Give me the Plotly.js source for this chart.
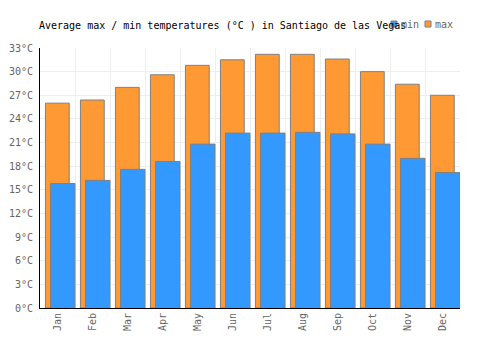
<!DOCTYPE html>
<html>
<head>
<meta charset="utf-8">
<script src="https://cdn.plot.ly/plotly-3.0.1.min.js"></script>
<style>html,body{margin:0;padding:0;background:#fff;}#chart{width:500px;height:350px;}</style>
</head>
<body>
<div id="chart"></div>
<script>
const months = ["Jan","Feb","Mar","Apr","May","Jun","Jul","Aug","Sep","Oct","Nov","Dec"];
const maxTemps = [26.0, 26.4, 28.0, 29.6, 30.8, 31.5, 32.2, 32.2, 31.6, 30.0, 28.4, 27.0];
const minTemps = [15.8, 16.2, 17.6, 18.6, 20.8, 22.2, 22.2, 22.3, 22.1, 20.8, 19.0, 17.2];
const yTicks = [0,3,6,9,12,15,18,21,24,27,30,33];

const FONT = "DejaVu Sans Mono, Liberation Mono, monospace";

const traces = [
  {
    type: "bar", name: "max", x: months, y: maxTemps,
    width: 0.68, offset: -0.345,
    marker: {color: "#ff9933", line: {color: "#808080", width: 1}},
    showlegend: false, hoverinfo: "skip"
  },
  {
    type: "bar", name: "min", x: months, y: minTemps,
    width: 0.70, offset: -0.20,
    marker: {color: "#3399ff", line: {color: "#808080", width: 1}},
    showlegend: false, hoverinfo: "skip"
  }
];

const layout = {
  width: 500, height: 350,
  margin: {l: 40, r: 40, t: 48, b: 42},
  paper_bgcolor: "#fff", plot_bgcolor: "#fff",
  barmode: "overlay",
  font: {family: FONT, size: 10, color: "#666"},
  title: {
    text: "Average max / min temperatures (°C ) in Santiago de las Vegas",
    font: {family: FONT, size: 10, color: "#000"},
    xref: "container", yref: "container",
    x: 39/500, xanchor: "left", y: 1 - 25/350, yanchor: "middle"
  },
  xaxis: {
    type: "category", range: [-0.5, 11.5],
    tickson: "boundaries", ticks: "", tickangle: -90,
    showgrid: true, gridcolor: "#eeeeee", gridwidth: 1,
    showline: true, linecolor: "#000", linewidth: 1,
    zeroline: false, tickfont: {family: FONT, size: 10, color: "#666"},
    fixedrange: true
  },
  yaxis: {
    range: [0, 33], tickvals: yTicks, ticktext: yTicks.map(v => v + "°C"),
    ticks: "", ticklabelstandoff: 4,
    showgrid: true, gridcolor: "#eeeeee", gridwidth: 1,
    showline: true, linecolor: "#000", linewidth: 1,
    zeroline: false, tickfont: {family: FONT, size: 10, color: "#666"},
    fixedrange: true
  },
  shapes: [
    {type: "rect", xref: "paper", yref: "paper", x0: (391-40)/420, x1: (397-40)/420,
     y0: (350-42-27)/260 + 0.0, y1: (350-42-21)/260,
     fillcolor: "#3399ff", line: {color: "#808080", width: 1}},
    {type: "rect", xref: "paper", yref: "paper", x0: (425-40)/420, x1: (431-40)/420,
     y0: (350-42-27)/260, y1: (350-42-21)/260,
     fillcolor: "#ff9933", line: {color: "#808080", width: 1}}
  ],
  annotations: [
    {text: "min", xref: "paper", yref: "paper", x: (399-40)/420, y: (350-42-24)/260,
     xanchor: "left", yanchor: "middle", showarrow: false,
     font: {family: FONT, size: 10, color: "#666"}},
    {text: "max", xref: "paper", yref: "paper", x: (433-40)/420, y: (350-42-24)/260,
     xanchor: "left", yanchor: "middle", showarrow: false,
     font: {family: FONT, size: 10, color: "#666"}}
  ]
};

Plotly.newPlot("chart", traces, layout, {displayModeBar: false, staticPlot: true});
</script>
</body>
</html>
